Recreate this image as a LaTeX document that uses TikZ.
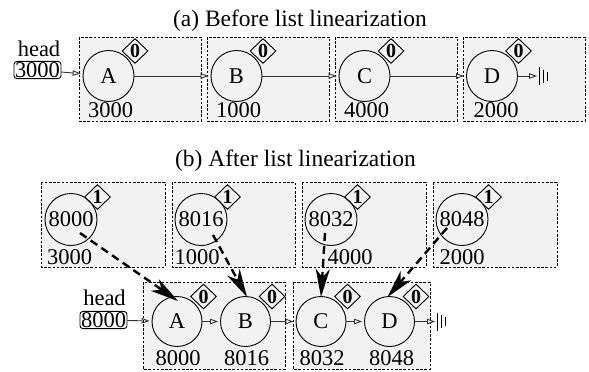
\documentclass[tikz,border=0pt]{standalone}
\usepackage{fontspec}
\setmainfont{Liberation Serif}
\usetikzlibrary{arrows.meta,shapes.geometric,calc}
\definecolor{boxgray}{HTML}{F2F2F2}
\begin{document}
\begin{tikzpicture}[x=1pt,y=-1pt,
  font=\fontsize{22.5}{25}\selectfont,
  cell/.style={draw, fill=boxgray, line width=1pt, dash pattern=on 2.6pt off 1.6pt},
  elem/.style={circle, draw, line width=0.9pt, minimum size=51pt, inner sep=0pt},
  tag/.style={diamond, draw, line width=0.9pt, minimum width=26pt, minimum height=25pt,
    inner sep=0pt, font=\fontsize{20}{20}\selectfont\bfseries},
  addr/.style={inner sep=0pt},
  link/.style={draw=black!80, line width=0.9pt, -{Triangle[open,length=8pt,width=5.5pt]}, shorten >=2pt},
  redirect/.style={line width=2.4pt, dash pattern=on 8pt off 5pt,
    -{Stealth[length=28pt,width=14pt,inset=8pt]}},
  headbox/.style={draw, rounded corners=3pt, line width=0.9pt, inner sep=1pt},
  earth/.style={line width=0.9pt},
]
\useasboundingbox (0,0) rectangle (589,372);

% ---------- titles ----------
\node[anchor=base, font=\fontsize{23.5}{26}\selectfont] (ta) at (300,26) {(a) Before list linearization};
\node[anchor=base, font=\fontsize{23.5}{26}\selectfont] (tb) at (295.5,166) {(b) After list linearization};

% ---------- (a) original list ----------
\path[cell] (79,37) rectangle (201,121);
\path[cell] (207,37) rectangle (329,121);
\path[cell] (335,37) rectangle (457,121);
\path[cell] (463,37) rectangle (585,121);

\node[elem] (a1) at (108.5,76) {A};
\node[elem] (a2) at (236.5,76) {B};
\node[elem] (a3) at (364.5,76) {C};
\node[elem] (a4) at (492,76) {D};

\foreach \n in {a1,a2,a3,a4}
  \node[tag] (\n t) at ($(\n)+(26.5,-25)$) {0};

\node[addr] (a1l) at ($(a1)+(2,34)$) {3000};
\node[addr] (a2l) at ($(a2)+(2,34)$) {1000};
\node[addr] (a3l) at ($(a3)+(2,34)$) {4000};
\node[addr] (a4l) at ($(a4)+(4,34)$) {2000};

\node (ha) at (39,49) {head};
\node[headbox] (hba) at (37.5,70) {3000};

\draw[link] (hba) -- (a1);
\draw[link] (a1) -- (a2);
\draw[link] (a2) -- (a3);
\draw[link] (a3) -- (a4);
\coordinate (ga) at (539,76);
\draw[link] (a4) -- (ga);
\draw[earth] (ga) ++(0,-9) -- ++(0,18);
\draw[earth] (ga) ++(4,-6.5) -- ++(0,13);
\draw[earth] (ga) ++(8,-4.5) -- ++(0,9);

% ---------- (b) old cells with forwarding addresses ----------
\path[cell] (41,182) rectangle (165,267);
\path[cell] (172,182) rectangle (295,267);
\path[cell] (302,182) rectangle (426,267);
\path[cell] (433,182) rectangle (557,267);

\node[elem, minimum size=52pt] (b1) at (71,219.5) {8000};
\node[elem, minimum size=52pt] (b2) at (201,219.5) {8016};
\node[elem, minimum size=52pt] (b3) at (331,219.5) {8032};
\node[elem, minimum size=52pt] (b4) at (462,219.5) {8048};

\foreach \n in {b1,b2,b3,b4}
  \node[tag] (\n t) at ($(\n)+(26.5,-22.5)$) {1};

\node[addr] (b1l) at (69.5,257) {3000};
\node[addr] (b2l) at (197,257) {1000};
\node[addr] (b3l) at (350,257) {4000};
\node[addr] (b4l) at (462,257) {2000};

% ---------- (b) linearized list ----------
\path[cell] (143,282) rectangle (285,369);
\path[cell] (293,282) rectangle (430,369);

\node[elem, minimum size=50pt] (c1) at (177,321.5) {A};
\node[elem, minimum size=50pt] (c2) at (245.5,321.5) {B};
\node[elem, minimum size=50pt] (c3) at (321,321.5) {C};
\node[elem, minimum size=50pt] (c4) at (389.5,321.5) {D};

\foreach \n in {c1,c2,c3,c4}
  \node[tag] (\n t) at ($(\n)+(26.5,-25)$) {0};

\node[addr] (c1l) at ($(c1)+(1,36.5)$) {8000};
\node[addr] (c2l) at ($(c2)+(1,36.5)$) {8016};
\node[addr] (c3l) at ($(c3)+(1,36.5)$) {8032};
\node[addr] (c4l) at ($(c4)+(2,36.5)$) {8048};

\node (hb) at (104.5,298) {head};
\node[headbox] (hbb) at (103.5,320) {8000};

\draw[link] (hbb) -- (c1);
\draw[link] (c1) -- (c2);
\draw[link] (c2) -- (c3);
\draw[link] (c3) -- (c4);
\coordinate (gb) at (437,321.5);
\draw[link] (c4) -- (gb);
\draw[earth] (gb) ++(0,-9) -- ++(0,18);
\draw[earth] (gb) ++(4,-6.5) -- ++(0,13);
\draw[earth] (gb) ++(8,-4.5) -- ++(0,9);

% ---------- forwarding pointers ----------
\coordinate (s1) at (80,233);
\coordinate (s2) at (213,235);
\coordinate (s3) at (325,233);
\coordinate (s4) at (447,228);
\draw[redirect] (s1) -- ([xshift=1pt,yshift=-5pt]c1.north);
\draw[redirect] (s2) -- ([xshift=1.5pt,yshift=-1pt]c2.north);
\draw[redirect] (s3) -- ([yshift=-1pt]c3.north);
\draw[redirect] (s4) -- ([xshift=-2pt,yshift=-1pt]c4.north);
\end{tikzpicture}
\end{document}
